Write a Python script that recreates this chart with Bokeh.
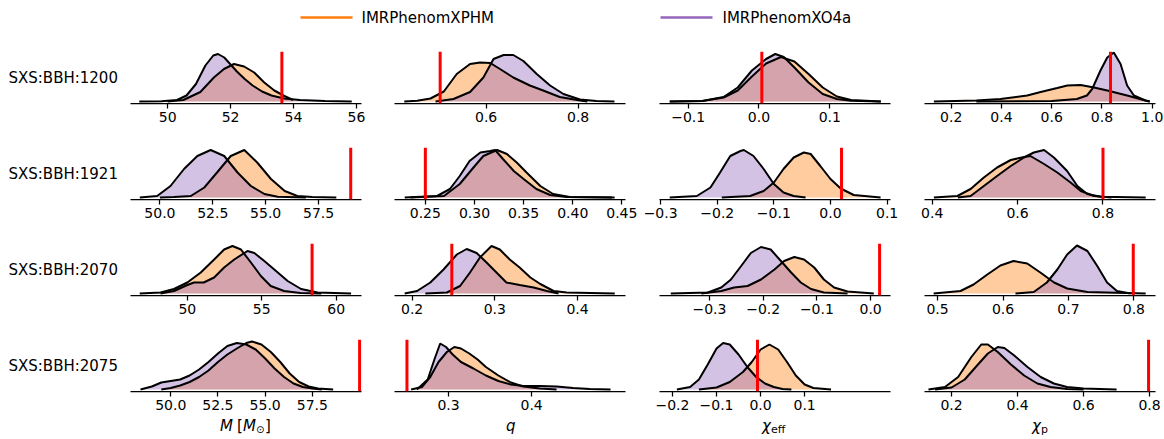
from bokeh.plotting import figure
from bokeh.layouts import row, column
from bokeh.models import Span, FixedTicker
from bokeh.core.properties import value
from bokeh.embed import file_html
from bokeh.resources import INLINE

runs = ["SXS:BBH:1200", "SXS:BBH:1921", "SXS:BBH:2070", "SXS:BBH:2075"]
waveforms = ["IMRPhenomXPHM", "IMRPhenomXO4a"]

# injected values (red lines): M, q, chi_eff, chi_p
truth_1200 = [53.63, 0.50, 0.004, 0.834]
truth_1921 = [59.02, 0.25, 0.0195, 0.80]
truth_2070 = [58.38, 0.248, 0.0167, 0.799]
truth_2075 = [60.0, 0.25, -0.007, 0.797]

# tick values / labels per row
ticks_1200 = [[50, 52, 54, 56], [0.6, 0.8], [-0.1, 0.0, 0.1], [0.2, 0.4, 0.6, 0.8, 1.0]]
labels_1200 = [["50", "52", "54", "56"], ["0.6", "0.8"], ["\u22120.1", "0.0", "0.1"], ["0.2", "0.4", "0.6", "0.8", "1.0"]]
ticks_1921 = [[50.0, 52.5, 55.0, 57.5], [0.25, 0.30, 0.35, 0.40, 0.45], [-0.3, -0.2, -0.1, 0.0, 0.1], [0.4, 0.6, 0.8]]
labels_1921 = [["50.0", "52.5", "55.0", "57.5"], ["0.25", "0.30", "0.35", "0.40", "0.45"], ["\u22120.3", "\u22120.2", "\u22120.1", "0.0", "0.1"], ["0.4", "0.6", "0.8"]]
ticks_2070 = [[50, 55, 60], [0.2, 0.3, 0.4], [-0.3, -0.2, -0.1, 0.0], [0.5, 0.6, 0.7, 0.8]]
labels_2070 = [["50", "55", "60"], ["0.2", "0.3", "0.4"], ["\u22120.3", "\u22120.2", "\u22120.1", "0.0"], ["0.5", "0.6", "0.7", "0.8"]]
ticks_2075 = [[50.0, 52.5, 55.0, 57.5], [0.3, 0.4], [-0.2, -0.1, 0.0, 0.1], [0.2, 0.4, 0.6, 0.8]]
labels_2075 = [["50.0", "52.5", "55.0", "57.5"], ["0.3", "0.4"], ["\u22120.2", "\u22120.1", "0.0", "0.1"], ["0.2", "0.4", "0.6", "0.8"]]

# ---- posterior densities (relative height), SXS:BBH:1200 ----
x_1200_M_XPHM = [50.0, 50.5, 51.04, 51.47, 51.79, 52.11, 52.43, 52.75, 53.07, 53.39, 53.71, 53.98]
d_1200_M_XPHM = [0.0, 0.03, 0.19, 0.48, 0.65, 0.75, 0.70, 0.58, 0.38, 0.22, 0.11, 0.03]
x_1200_M_XO4a = [49.1, 49.8, 50.3, 50.6, 50.9, 51.2, 51.45, 51.6, 51.8, 52.0, 52.2, 52.45, 52.7, 53.0, 53.3, 53.7, 54.2, 55.0, 55.85]
d_1200_M_XO4a = [0.0, 0.005, 0.03, 0.12, 0.35, 0.72, 0.92, 0.95, 0.88, 0.74, 0.6, 0.45, 0.32, 0.2, 0.12, 0.06, 0.03, 0.01, 0.0]
x_1200_q_XPHM = [0.422, 0.45, 0.479, 0.508, 0.536, 0.565, 0.587, 0.609, 0.630, 0.659, 0.695, 0.724, 0.760, 0.804, 0.82]
d_1200_q_XPHM = [0.0, 0.015, 0.06, 0.2, 0.55, 0.75, 0.78, 0.77, 0.65, 0.48, 0.32, 0.22, 0.09, 0.02, 0.0]
x_1200_q_XO4a = [0.49, 0.529, 0.565, 0.594, 0.616, 0.638, 0.659, 0.681, 0.710, 0.739, 0.768, 0.804, 0.84, 0.879]
d_1200_q_XO4a = [0.0, 0.05, 0.19, 0.48, 0.85, 0.93, 0.93, 0.81, 0.55, 0.32, 0.15, 0.04, 0.01, 0.0]
x_1200_ce_XPHM = [-0.126, -0.08, -0.05, -0.03, -0.01, 0.01, 0.031, 0.05, 0.07, 0.09, 0.11, 0.13, 0.172]
d_1200_ce_XPHM = [0.0, 0.01, 0.08, 0.22, 0.5, 0.76, 0.89, 0.8, 0.55, 0.28, 0.1, 0.03, 0.0]
x_1200_ce_XO4a = [-0.126, -0.08, -0.05, -0.03, -0.01, 0.01, 0.023, 0.035, 0.05, 0.07, 0.09, 0.11, 0.13, 0.172]
d_1200_ce_XO4a = [0.0, 0.01, 0.09, 0.28, 0.62, 0.85, 0.95, 0.89, 0.68, 0.38, 0.15, 0.05, 0.015, 0.0]
x_1200_cp_XPHM = [0.131, 0.3, 0.396, 0.5025, 0.556, 0.622, 0.662, 0.715, 0.768, 0.821, 0.9, 0.973, 0.99]
d_1200_cp_XPHM = [0.0, 0.02, 0.05, 0.12, 0.19, 0.27, 0.32, 0.33, 0.28, 0.22, 0.12, 0.02, 0.0]
x_1200_cp_XO4a = [0.30, 0.6, 0.7, 0.74, 0.761, 0.794, 0.821, 0.847, 0.874, 0.9, 0.927, 0.973, 0.99]
d_1200_cp_XO4a = [0.0, 0.01, 0.05, 0.12, 0.25, 0.62, 0.88, 0.98, 0.75, 0.32, 0.12, 0.02, 0.0]

# ---- SXS:BBH:1921 ----
x_1921_M_XPHM = [50.0, 50.66, 51.46, 52.1, 52.7, 53.35, 53.99, 54.6, 55.25, 55.9, 56.5, 57.2, 58.34]
d_1921_M_XPHM = [0.0, 0.01, 0.03, 0.2, 0.5, 0.83, 0.95, 0.7, 0.37, 0.13, 0.03, 0.01, 0.0]
x_1921_M_XO4a = [49.05, 49.87, 50.5, 51.14, 51.77, 52.4, 53.04, 53.67, 54.3, 54.94, 55.57, 56.9]
d_1921_M_XO4a = [0.0, 0.03, 0.23, 0.57, 0.83, 0.95, 0.83, 0.5, 0.23, 0.07, 0.015, 0.0]
x_1921_q_XPHM = [0.235, 0.269, 0.285, 0.299, 0.309, 0.323, 0.333, 0.343, 0.353, 0.367, 0.38, 0.397, 0.4426]
d_1921_q_XPHM = [0.0, 0.03, 0.27, 0.6, 0.83, 0.95, 0.87, 0.7, 0.5, 0.23, 0.07, 0.01, 0.0]
x_1921_q_XO4a = [0.229, 0.262, 0.275, 0.285, 0.295, 0.306, 0.316, 0.321, 0.329, 0.34, 0.35, 0.363, 0.377, 0.394, 0.44]
d_1921_q_XO4a = [0.0, 0.03, 0.17, 0.43, 0.73, 0.9, 0.93, 0.95, 0.77, 0.53, 0.37, 0.17, 0.05, 0.01, 0.0]
x_1921_ce_XPHM = [-0.192, -0.142, -0.118, -0.1, -0.083, -0.065, -0.047, -0.035, -0.018, 0.0, 0.018, 0.041, 0.0885]
d_1921_ce_XPHM = [0.0, 0.03, 0.13, 0.3, 0.57, 0.8, 0.9, 0.87, 0.63, 0.37, 0.18, 0.05, 0.0]
x_1921_ce_XO4a = [-0.284, -0.236, -0.212, -0.195, -0.177, -0.159, -0.153, -0.136, -0.118, -0.1, -0.083, -0.065, -0.044]
d_1921_ce_XO4a = [0.0, 0.03, 0.2, 0.5, 0.83, 0.93, 0.95, 0.83, 0.57, 0.27, 0.1, 0.03, 0.0]
x_1921_cp_XPHM = [0.404, 0.459, 0.49, 0.521, 0.552, 0.584, 0.615, 0.63, 0.662, 0.693, 0.724, 0.748, 0.779, 0.82]
d_1921_cp_XPHM = [0.0, 0.03, 0.17, 0.4, 0.6, 0.75, 0.81, 0.83, 0.67, 0.5, 0.3, 0.13, 0.03, 0.0]
x_1921_cp_XO4a = [0.46, 0.49, 0.521, 0.552, 0.584, 0.615, 0.638, 0.662, 0.685, 0.716, 0.74, 0.763, 0.795, 0.9]
d_1921_cp_XO4a = [0.0, 0.03, 0.23, 0.43, 0.63, 0.8, 0.9, 0.95, 0.8, 0.53, 0.23, 0.07, 0.015, 0.0]

# ---- SXS:BBH:2070 ----
x_2070_M_XPHM = [46.8, 48.2, 49.1, 50.0, 50.9, 51.8, 52.47, 53.03, 53.6, 54.27, 54.94, 55.6, 56.5, 57.6, 59.0]
d_2070_M_XPHM = [0.0, 0.02, 0.09, 0.22, 0.42, 0.68, 0.88, 0.95, 0.88, 0.62, 0.35, 0.15, 0.05, 0.01, 0.0]
x_2070_M_XO4a = [48.2, 49.1, 50.0, 50.45, 51.1, 51.8, 52.47, 53.15, 54.04, 54.5, 55.17, 55.84, 56.74, 57.64, 58.76, 61.0]
d_2070_M_XO4a = [0.0, 0.05, 0.17, 0.22, 0.22, 0.32, 0.52, 0.68, 0.85, 0.81, 0.65, 0.48, 0.25, 0.09, 0.02, 0.0]
x_2070_q_XPHM = [0.216, 0.242, 0.258, 0.27, 0.282, 0.296, 0.306, 0.318, 0.33, 0.343, 0.355, 0.371, 0.387, 0.445]
d_2070_q_XPHM = [0.0, 0.02, 0.15, 0.42, 0.72, 0.95, 0.88, 0.68, 0.52, 0.32, 0.19, 0.05, 0.02, 0.0]
x_2070_q_XO4a = [0.191, 0.206, 0.222, 0.238, 0.254, 0.266, 0.278, 0.29, 0.302, 0.314, 0.33, 0.347, 0.363, 0.377]
d_2070_q_XO4a = [0.0, 0.05, 0.22, 0.48, 0.78, 0.89, 0.81, 0.62, 0.42, 0.22, 0.17, 0.12, 0.05, 0.0]
x_2070_ce_XPHM = [-0.315, -0.278, -0.254, -0.229, -0.204, -0.179, -0.161, -0.142, -0.124, -0.105, -0.087, -0.068, -0.043, 0.006]
d_2070_ce_XPHM = [0.0, 0.05, 0.12, 0.15, 0.28, 0.48, 0.65, 0.73, 0.68, 0.52, 0.28, 0.12, 0.04, 0.0]
x_2070_ce_XO4a = [-0.372, -0.303, -0.278, -0.26, -0.241, -0.223, -0.204, -0.186, -0.167, -0.148, -0.13, -0.111, -0.087, -0.043]
d_2070_ce_XO4a = [0.0, 0.02, 0.12, 0.28, 0.55, 0.81, 0.93, 0.88, 0.65, 0.42, 0.22, 0.09, 0.02, 0.0]
x_2070_cp_XPHM = [0.494, 0.535, 0.555, 0.576, 0.596, 0.616, 0.637, 0.657, 0.678, 0.698, 0.729, 0.818]
d_2070_cp_XPHM = [0.0, 0.05, 0.18, 0.38, 0.56, 0.65, 0.6, 0.42, 0.22, 0.1, 0.03, 0.0]
x_2070_cp_XO4a = [0.619, 0.647, 0.667, 0.683, 0.698, 0.713, 0.729, 0.744, 0.759, 0.774, 0.795]
d_2070_cp_XO4a = [0.0, 0.03, 0.22, 0.48, 0.78, 0.96, 0.85, 0.55, 0.22, 0.05, 0.0]

# ---- SXS:BBH:2075 ----
x_2075_M_XPHM = [49.5, 50.0, 50.5, 51.0, 51.5, 52.0, 52.5, 53.0, 53.5, 54.0, 54.3, 54.8, 55.3, 55.8, 56.3, 56.8, 57.3, 57.8, 58.6]
d_2075_M_XPHM = [0.0, 0.03, 0.08, 0.15, 0.25, 0.38, 0.55, 0.7, 0.82, 0.93, 0.96, 0.9, 0.75, 0.55, 0.32, 0.15, 0.06, 0.02, 0.0]
x_2075_M_XO4a = [48.4, 49.0, 49.5, 50.0, 50.5, 51.0, 51.5, 52.0, 52.5, 53.0, 53.5, 54.0, 54.5, 55.0, 55.5, 56.0, 56.5, 57.0, 57.5, 58.0]
d_2075_M_XO4a = [0.0, 0.06, 0.14, 0.17, 0.2, 0.28, 0.4, 0.55, 0.72, 0.87, 0.93, 0.9, 0.8, 0.62, 0.42, 0.25, 0.12, 0.05, 0.02, 0.0]
x_2075_q_XPHM = [0.255, 0.268, 0.278, 0.288, 0.298, 0.307, 0.315, 0.325, 0.335, 0.345, 0.36, 0.375, 0.39, 0.41, 0.43]
d_2075_q_XPHM = [0.0, 0.05, 0.25, 0.55, 0.75, 0.85, 0.82, 0.72, 0.6, 0.45, 0.28, 0.14, 0.06, 0.02, 0.0]
x_2075_q_XO4a = [0.262, 0.275, 0.283, 0.29, 0.297, 0.305, 0.315, 0.33, 0.345, 0.36, 0.375, 0.39, 0.41, 0.43, 0.45, 0.47, 0.495]
d_2075_q_XO4a = [0.0, 0.2, 0.6, 0.92, 0.85, 0.7, 0.55, 0.42, 0.28, 0.17, 0.1, 0.07, 0.07, 0.06, 0.03, 0.01, 0.0]
x_2075_ce_XPHM = [-0.14, -0.1, -0.07, -0.04, -0.02, 0.0, 0.02, 0.04, 0.06, 0.08, 0.1, 0.12, 0.16]
d_2075_ce_XPHM = [0.0, 0.04, 0.15, 0.35, 0.55, 0.8, 0.9, 0.8, 0.55, 0.28, 0.1, 0.03, 0.0]
x_2075_ce_XO4a = [-0.19, -0.16, -0.14, -0.12, -0.1, -0.085, -0.07, -0.05, -0.03, -0.01, 0.01, 0.03, 0.05, 0.07]
d_2075_ce_XO4a = [0.0, 0.05, 0.2, 0.5, 0.82, 0.93, 0.9, 0.7, 0.45, 0.25, 0.12, 0.05, 0.01, 0.0]
x_2075_cp_XPHM = [0.13, 0.18, 0.22, 0.26, 0.29, 0.31, 0.34, 0.38, 0.42, 0.46, 0.5, 0.55, 0.6]
d_2075_cp_XPHM = [0.0, 0.05, 0.25, 0.65, 0.9, 0.9, 0.75, 0.5, 0.28, 0.12, 0.05, 0.01, 0.0]
x_2075_cp_XO4a = [0.15, 0.2, 0.24, 0.28, 0.31, 0.34, 0.36, 0.39, 0.43, 0.47, 0.51, 0.55, 0.6, 0.7]
d_2075_cp_XO4a = [0.0, 0.04, 0.2, 0.5, 0.72, 0.85, 0.83, 0.68, 0.45, 0.25, 0.12, 0.05, 0.02, 0.0]

curves = {
    "1200": [(x_1200_M_XPHM, d_1200_M_XPHM, x_1200_M_XO4a, d_1200_M_XO4a),
             (x_1200_q_XPHM, d_1200_q_XPHM, x_1200_q_XO4a, d_1200_q_XO4a),
             (x_1200_ce_XPHM, d_1200_ce_XPHM, x_1200_ce_XO4a, d_1200_ce_XO4a),
             (x_1200_cp_XPHM, d_1200_cp_XPHM, x_1200_cp_XO4a, d_1200_cp_XO4a)],
    "1921": [(x_1921_M_XPHM, d_1921_M_XPHM, x_1921_M_XO4a, d_1921_M_XO4a),
             (x_1921_q_XPHM, d_1921_q_XPHM, x_1921_q_XO4a, d_1921_q_XO4a),
             (x_1921_ce_XPHM, d_1921_ce_XPHM, x_1921_ce_XO4a, d_1921_ce_XO4a),
             (x_1921_cp_XPHM, d_1921_cp_XPHM, x_1921_cp_XO4a, d_1921_cp_XO4a)],
    "2070": [(x_2070_M_XPHM, d_2070_M_XPHM, x_2070_M_XO4a, d_2070_M_XO4a),
             (x_2070_q_XPHM, d_2070_q_XPHM, x_2070_q_XO4a, d_2070_q_XO4a),
             (x_2070_ce_XPHM, d_2070_ce_XPHM, x_2070_ce_XO4a, d_2070_ce_XO4a),
             (x_2070_cp_XPHM, d_2070_cp_XPHM, x_2070_cp_XO4a, d_2070_cp_XO4a)],
    "2075": [(x_2075_M_XPHM, d_2075_M_XPHM, x_2075_M_XO4a, d_2075_M_XO4a),
             (x_2075_q_XPHM, d_2075_q_XPHM, x_2075_q_XO4a, d_2075_q_XO4a),
             (x_2075_ce_XPHM, d_2075_ce_XPHM, x_2075_ce_XO4a, d_2075_ce_XO4a),
             (x_2075_cp_XPHM, d_2075_cp_XPHM, x_2075_cp_XO4a, d_2075_cp_XO4a)],
}
truths = {"1200": truth_1200, "1921": truth_1921, "2070": truth_2070, "2075": truth_2075}
ticks = {"1200": ticks_1200, "1921": ticks_1921, "2070": ticks_2070, "2075": ticks_2075}
tlabels = {"1200": labels_1200, "1921": labels_1921, "2070": labels_2070, "2075": labels_2075}

# ---- styling / layout (not data) ----
FONT = "DejaVu Sans"
ORANGE = "#ff7f0e"
PURPLE = "#9467bd"
FRAME_W, FRAME_H = 231, 52
YR = (-0.04, 1.0)
LABEL_W = 124
borders = [(6, 17), (16, 17), (17, 16), (18, 8)]
frame_lefts = [130, 394, 659, 924]
xranges = {
    "1200": [(48.82, 56.16), (0.4007, 0.903), (-0.1405, 0.1857), (0.0936, 1.013)],
    "1921": [(48.61, 59.53), (0.2186, 0.4537), (-0.302, 0.106), (0.382, 0.923)],
    "2070": [(46.18, 61.7), (0.1787, 0.458), (-0.393, 0.037), (0.48, 0.833)],
    "2075": [(47.87, 60.1), (0.235, 0.513), (-0.2295, 0.295), (0.118, 0.818)],
}
XL_H = 22
# axis-label pieces: (text, dx from column centre, y in strip, font px, style)
axis_labels = [
    [("M", -26, 13, 15, "italic"), ("[", -9, 13, 15, "normal"), ("M", -3, 13, 15, "italic"),
     ("\u2299", 10, 9, 10, "normal"), ("]", 19, 13, 15, "normal")],
    [("q", -4, 13, 15, "italic")],
    [("\u03c7", -13, 13, 15, "italic"), ("eff", -4, 9, 11, "normal")],
    [("\u03c7", -8, 13, 15, "italic"), ("p", 1, 9, 11, "normal")],
]
TOTAL_W = LABEL_W + 4 * FRAME_W + sum(a + b for a, b in borders)


def blank(w, h, xr, yr, **kw):
    p = figure(frame_width=w, frame_height=h, x_range=xr, y_range=yr,
               min_border_left=kw.get("bl", 0), min_border_right=kw.get("br", 0),
               min_border_top=kw.get("bt", 0), min_border_bottom=kw.get("bb", 0),
               toolbar_location=None, output_backend="svg", x_axis_location=None,
               y_axis_location=None, outline_line_color=None)
    p.xgrid.visible = False
    p.ygrid.visible = False
    return p


def make_panel(key, c, last):
    bl, br = borders[c]
    p = figure(frame_width=FRAME_W, frame_height=FRAME_H, x_range=xranges[key][c], y_range=YR,
               min_border_left=bl, min_border_right=br, min_border_top=10,
               min_border_bottom=25 if last else 34, toolbar_location=None,
               output_backend="svg", y_axis_location=None, outline_line_color=None)
    p.xgrid.visible = False
    p.ygrid.visible = False
    ax = p.xaxis[0]
    ax.ticker = FixedTicker(ticks=ticks[key][c])
    ax.major_label_overrides = {t: l for t, l in zip(ticks[key][c], tlabels[key][c])}
    ax.axis_line_color = "black"
    ax.axis_line_width = 1.25
    ax.major_tick_line_color = "black"
    ax.major_tick_line_width = 1.25
    ax.major_tick_out = 5
    ax.major_tick_in = 0
    ax.minor_tick_out = 0
    ax.minor_tick_in = 0
    ax.major_label_standoff = 3
    ax.major_label_text_font = FONT
    ax.major_label_text_font_size = "14px"
    ax.major_label_text_color = "black"

    xo, do, xp, dp = curves[key][c]
    p.varea(x=xo, y1=[0] * len(xo), y2=do, fill_color=ORANGE, fill_alpha=0.4)
    p.varea(x=xp, y1=[0] * len(xp), y2=dp, fill_color=PURPLE, fill_alpha=0.4)
    p.line(x=xo, y=do, line_color="black", line_width=2)
    p.line(x=xp, y=dp, line_color="black", line_width=2)
    p.add_layout(Span(location=truths[key][c], dimension="height", line_color="red", line_width=3))
    return p


def make_rowlabel(name, last):
    p = blank(LABEL_W, FRAME_H, (0, LABEL_W), YR, bt=10, bb=25 if last else 34)
    p.text(x=[8], y=[0.48], text=[name], text_font=value(FONT), text_font_size="15px",
           text_baseline="middle", text_align="left", text_color="black")
    return p


# legend strip
LEG_H = 41
leg = blank(TOTAL_W, LEG_H, (0, TOTAL_W), (0, LEG_H))
leg.segment(x0=[300, 660], y0=[LEG_H - 17] * 2, x1=[352, 712], y1=[LEG_H - 17] * 2,
            line_color=[ORANGE, PURPLE], line_width=2.5)
leg.text(x=[361, 722], y=[LEG_H - 17] * 2, text=waveforms, text_font=value(FONT),
         text_font_size="15px", text_baseline="middle", text_align="left", text_color="black")

# x-axis label strip
xl = blank(TOTAL_W, XL_H, (0, TOTAL_W), (0, XL_H))
for c in range(4):
    cx = frame_lefts[c] + FRAME_W / 2
    for text, dx, yy, size, style in axis_labels[c]:
        xl.text(x=[cx + dx], y=[yy], text=[text], text_font=value(FONT),
                text_font_size=f"{size}px", text_font_style=style,
                text_baseline="middle", text_align="left", text_color="black")

rows = [leg]
keys = ["1200", "1921", "2070", "2075"]
for i, (key, name) in enumerate(zip(keys, runs)):
    last = i == len(keys) - 1
    rows.append(row(make_rowlabel(name, last), *[make_panel(key, c, last) for c in range(4)]))
rows.append(xl)

layout = column(*rows)
open("out.html", "w").write(file_html(layout, INLINE))
